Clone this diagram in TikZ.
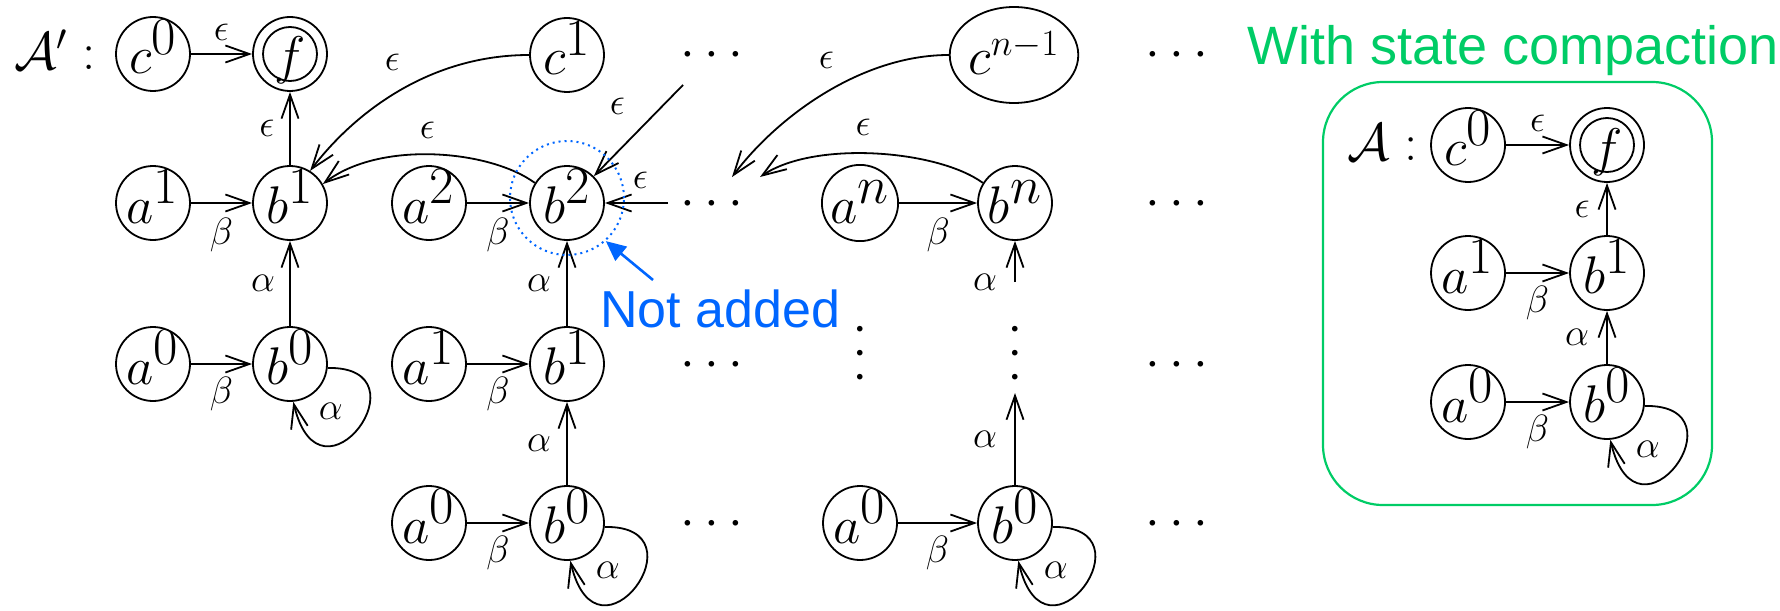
\RequirePackage{fix-cm}
\documentclass[tikz,border=0pt]{standalone}
\usepackage{fontspec}
\newfontfamily\notefont{Liberation Sans}
\usetikzlibrary{arrows.meta,shapes.geometric}

\definecolor{noteblue}{RGB}{0,102,255}
\definecolor{notegreen}{RGB}{0,204,102}

% full-size superscript
\newcommand{\tsup}[1]{^{\textstyle #1}}
% spaced ellipsis dots
\newcommand{\hdotsrow}{${\cdot}\hspace{4.6pt}{\cdot}\hspace{4.6pt}{\cdot}$}

\begin{document}
\begin{tikzpicture}[x=0.5pt,y=-0.5pt,
  every node/.style={inner sep=0pt},
  state/.style={circle,draw,line width=0.9pt,minimum size=37pt,inner sep=0pt,
    font=\fontsize{26.5}{30}\selectfont,text height=22pt,text depth=2pt},
  wide state/.style={state,ellipse,minimum width=53pt,minimum height=48pt},
  lbl/.style={font=\fontsize{19}{22}\selectfont,inner sep=0pt},
  edge/.style={line width=0.9pt,-{Straight Barb[length=12pt,width=8.5pt]}},
  hdots/.style={anchor=base,font=\fontsize{26.5}{30}\selectfont},
  vdotsnode/.style={hdots,rotate=90},
  autname/.style={anchor=base west,font=\fontsize{26.5}{30}\selectfont},
  note/.style={font=\fontsize{26}{30}\notefont},
]
\useasboundingbox (0,0) rectangle (1780,610);

% ---------------- automaton A' ----------------
\node[autname] (Aprime) at (14,70) {$\mathcal{A}' :$};

% row 1
\node[state] (c0) at (153,54) {$c\tsup{0}$};
\node[state] (f)  at (290,54) {$f$};
\draw[line width=0.9pt] (f.center) circle[radius=13.5pt];
\node[state] (c1) at (567,55) {$c\tsup{1}$};
\node[hdots] (d11) at (712,68) {\hdotsrow};
\node[wide state] (cn) at (1014,55) {$c^{n-1}$};
\node[hdots] (d12) at (1177,68) {\hdotsrow};

% row 2
\node[state] (a1) at (153,203) {$a\tsup{1}$};
\node[state] (b1) at (290,203) {$b\tsup{1}$};
\node[state] (a2) at (429,203) {$a\tsup{2}$};
\node[state] (b2) at (567,203) {$b\tsup{2}$};
\node[hdots] (d21) at (712,216) {\hdotsrow};
\node[state] (an) at (860,203) {$a\tsup{n}$};
\node[state] (bn) at (1015,203) {$b\tsup{n}$};
\node[hdots] (d22) at (1177,216) {\hdotsrow};

% row 3
\node[state] (a0) at (153,364) {$a\tsup{0}$};
\node[state] (b0) at (290,364) {$b\tsup{0}$};
\node[state] (a1b) at (429,364) {$a\tsup{1}$};
\node[state] (b1b) at (567,364) {$b\tsup{1}$};
\node[hdots] (d31) at (712,377) {\hdotsrow};
\node[vdotsnode] (v1) at (873,353) {\hdotsrow};
\node[vdotsnode] (v2) at (1028,353) {\hdotsrow};
\node[hdots] (d32) at (1177,377) {\hdotsrow};

% row 4
\node[state] (a0c) at (429,523) {$a\tsup{0}$};
\node[state] (b0c) at (567,523) {$b\tsup{0}$};
\node[hdots] (d41) at (712,536) {\hdotsrow};
\node[state] (a0d) at (860,523) {$a\tsup{0}$};
\node[state] (b0d) at (1015,523) {$b\tsup{0}$};
\node[hdots] (d42) at (1177,536) {\hdotsrow};

% free ends of connectors
\coordinate (p1) at (683,85);
\coordinate (p2) at (668,203);
\coordinate (q1) at (732,177);
\coordinate (q2) at (760,177);
\coordinate (p3) at (1015,282);
\coordinate (q3) at (1015,393);

% connectors
\draw[edge] (c0) -- node[lbl,yshift=11pt]{$\epsilon$} (f);
\draw[edge] (b1) -- node[lbl,xshift=-11.5pt]{$\epsilon$} (f);
\draw[edge] (c1.west) .. controls (430,55) and (355,112) ..
  node[lbl,xshift=-3.5pt,yshift=14.5pt]{$\epsilon$} (b1.58);
\draw[edge] (b2.148) .. controls (490,150) and (380,140) ..
  node[lbl,xshift=-3pt,yshift=12pt]{$\epsilon$} (b1.30);
\draw[edge] (a1) -- node[lbl,yshift=-16pt]{$\beta$} (b1);
\draw[edge] (a2) -- node[lbl,yshift=-16pt]{$\beta$} (b2);
\draw[edge] (b0) -- node[lbl,xshift=-13.5pt]{$\alpha$} (b1);
\draw[edge] (b1b) -- node[lbl,xshift=-14pt]{$\alpha$} (b2);
\draw[edge] (p1) -- node[lbl,xshift=-10.5pt,yshift=12pt]{$\epsilon$} (b2.45);
\draw[edge] (p2) -- node[lbl,xshift=2pt,yshift=11.5pt]{$\epsilon$} (b2);
\draw[edge] (cn.west) .. controls (861,55) and (777,117) ..
  node[lbl,xshift=1pt,yshift=16.5pt]{$\epsilon$} (q1);
\draw[edge] (bn.148) .. controls (938,150) and (815,140) ..
  node[lbl,xshift=-6pt,yshift=13pt]{$\epsilon$} (q2);
\draw[edge] (an) -- node[lbl,yshift=-16pt]{$\beta$} (bn);
\draw[edge] (p3) -- node[lbl,pos=0,xshift=-15pt]{$\alpha$} (bn);

\draw[edge] (a0) -- node[lbl,yshift=-15pt]{$\beta$} (b0);
\draw[edge] (b0.-6) .. controls +(102,-2) and +(27,115) ..
  node[lbl,xshift=-14pt,yshift=8pt]{$\alpha$} (b0.-85);
\draw[edge] (a1b) -- node[lbl,yshift=-15pt]{$\beta$} (b1b);
\draw[edge] (b0c) -- node[lbl,xshift=-14pt]{$\alpha$} (b1b);
\draw[edge] (a0c) -- node[lbl,yshift=-15pt]{$\beta$} (b0c);
\draw[edge] (b0c.-6) .. controls +(102,-2) and +(27,115) ..
  node[lbl,xshift=-14pt,yshift=8pt]{$\alpha$} (b0c.-85);
\draw[edge] (a0d) -- node[lbl,yshift=-15pt]{$\beta$} (b0d);
\draw[edge] (b0d.-6) .. controls +(102,-2) and +(27,115) ..
  node[lbl,xshift=-14pt,yshift=8pt]{$\alpha$} (b0d.-85);
\draw[edge] (b0d) -- node[lbl,xshift=-15pt]{$\alpha$} (q3);

% highlighted state that is not added
\node[circle,draw=noteblue,dotted,line width=1pt,minimum size=57pt] (hl) at (567,198) {};
\node[note,text=noteblue,anchor=base west] (na) at (600,327) {Not added};
\coordinate (na0) at (653,280);
\draw[noteblue,line width=1.3pt,-{Triangle[length=10pt,width=9pt]}] (na0) -- (hl.-48);

% ---------------- compacted automaton A ----------------
\node[note,font=\fontsize{27}{30}\notefont,text=notegreen,anchor=base east] (title) at (1779,65) {With state compaction};
\draw[notegreen,line width=1.1pt,rounded corners=30pt] (1323,82) rectangle (1712,505);

\node[autname] (Aname) at (1347,160) {$\mathcal{A} :$};
\node[state] (rc0) at (1468,145) {$c\tsup{0}$};
\node[state] (rf)  at (1607,145) {$f$};
\draw[line width=0.9pt] (rf.center) circle[radius=13.5pt];
\node[state] (ra1) at (1468,273) {$a\tsup{1}$};
\node[state] (rb1) at (1607,273) {$b\tsup{1}$};
\node[state] (ra0) at (1468,402) {$a\tsup{0}$};
\node[state] (rb0) at (1607,402) {$b\tsup{0}$};

\draw[edge] (rc0) -- node[lbl,yshift=11pt]{$\epsilon$} (rf);
\draw[edge] (rb1) -- node[lbl,xshift=-12.5pt]{$\epsilon$} (rf);
\draw[edge] (ra1) -- node[lbl,yshift=-15pt]{$\beta$} (rb1);
\draw[edge] (rb0) -- node[lbl,xshift=-15pt]{$\alpha$} (rb1);
\draw[edge] (ra0) -- node[lbl,yshift=-15pt]{$\beta$} (rb0);
\draw[edge] (rb0.-6) .. controls +(102,-2) and +(27,115) ..
  node[lbl,xshift=-14pt,yshift=8pt]{$\alpha$} (rb0.-85);
\end{tikzpicture}
\end{document}
